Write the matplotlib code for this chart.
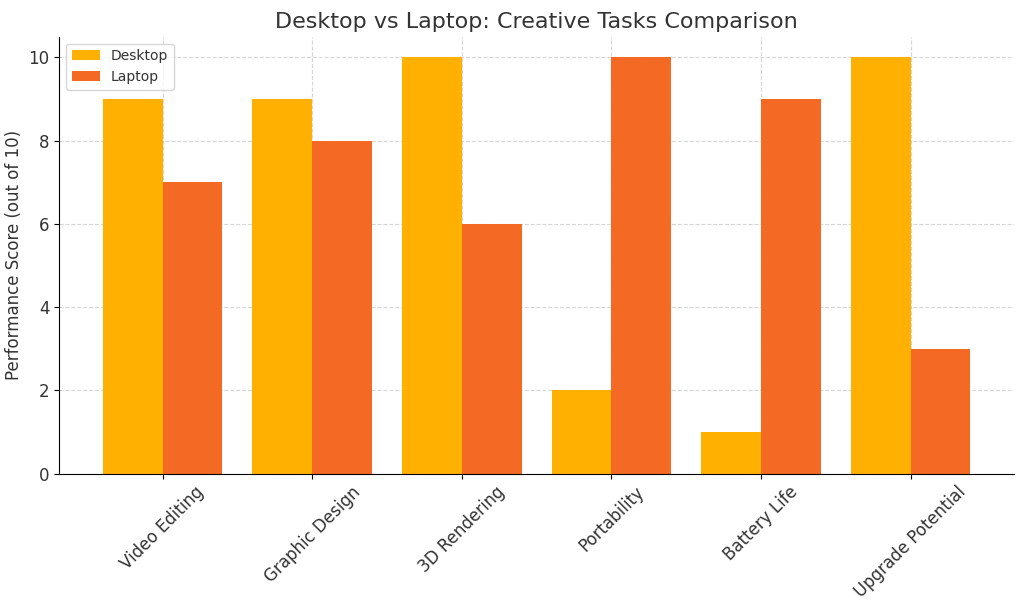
import matplotlib
matplotlib.use("Agg")
import matplotlib.pyplot as plt
import numpy as np

categories = ["Video Editing", "Graphic Design", "3D Rendering", "Portability",
              "Battery Life", "Upgrade Potential"]
desktop_scores = [9, 9, 10, 2, 1, 10]
laptop_scores = [7, 8, 6, 10, 9, 3]

text_color = "#333333"
fig, ax = plt.subplots(figsize=(10.24, 6.11), dpi=100)
x = np.arange(len(categories))
width = 0.4
ax.bar(x - width / 2, desktop_scores, width, label="Desktop", color="#FFB000")
ax.bar(x + width / 2, laptop_scores, width, label="Laptop", color="#F46A25")
ax.set_title("Desktop vs Laptop: Creative Tasks Comparison", fontsize=16, color=text_color)
ax.set_ylabel("Performance Score (out of 10)", fontsize=12, color=text_color)
ax.set_xticks(x)
ax.set_xticklabels(categories, rotation=45, ha="center", fontsize=12, color=text_color)
ax.tick_params(axis="y", labelsize=12, labelcolor=text_color)
ax.set_ylim(0, 10.5)
ax.grid(True, linestyle="--", alpha=0.6, color="#bbbbbb")
ax.set_axisbelow(True)
for side in ("top", "right"):
    ax.spines[side].set_visible(False)
leg = ax.legend(loc="upper left")
for t in leg.get_texts():
    t.set_color(text_color)
fig.subplots_adjust(left=0.058, right=0.99, top=0.94, bottom=0.225)
fig.savefig("out.png", dpi=100)
